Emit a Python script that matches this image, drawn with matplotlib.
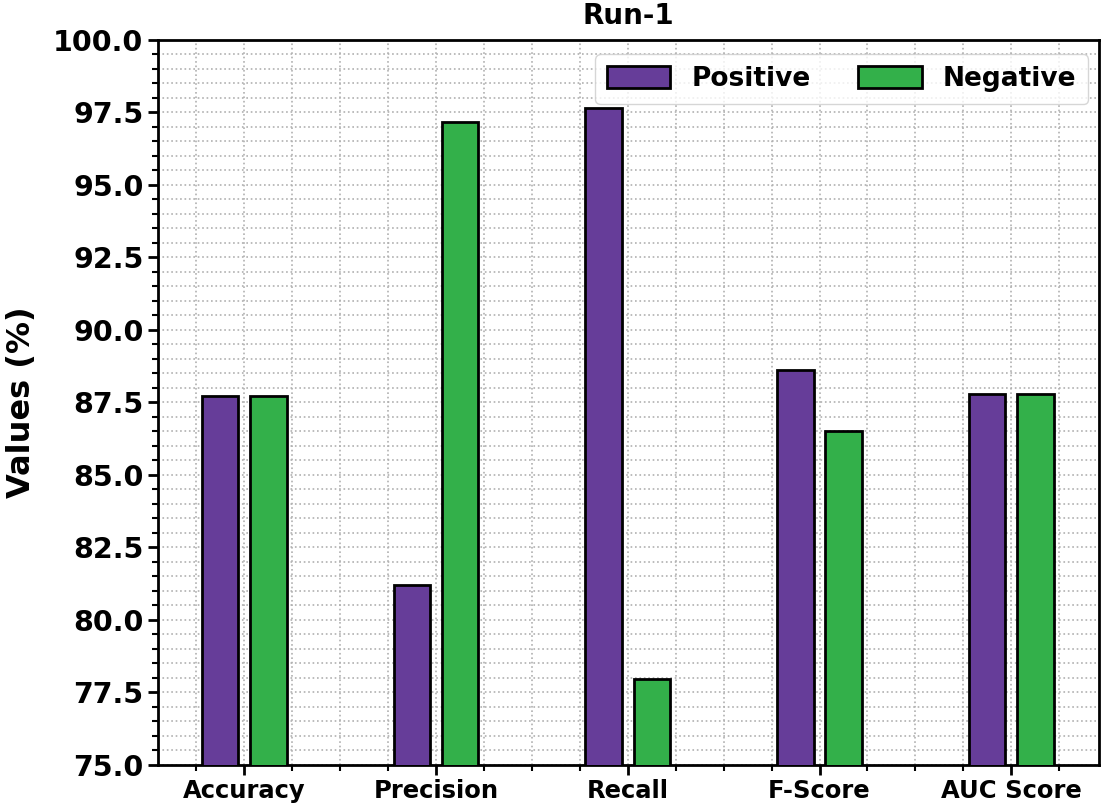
import matplotlib
matplotlib.use('Agg')
import matplotlib.pyplot as plt
import numpy as np
from matplotlib.ticker import MultipleLocator, FormatStrFormatter

metrics = ['Accuracy', 'Precision', 'Recall', 'F-Score', 'AUC Score']
positive = [87.7, 81.2, 97.65, 88.6, 87.8]
negative = [87.7, 97.15, 77.95, 86.5, 87.8]

plt.rcParams['font.family'] = 'DejaVu Sans'
plt.rcParams['font.weight'] = 'bold'

fig = plt.figure(figsize=(11.05, 8.11), dpi=100)
ax = fig.add_axes([0.143, 0.057, 0.852, 0.894])

x = np.arange(len(metrics))
w = 0.19
ax.bar(x - 0.126, positive, w, color='#663d99', edgecolor='black', linewidth=2, label='Positive', zorder=3)
ax.bar(x + 0.126, negative, w, color='#33b04a', edgecolor='black', linewidth=2, label='Negative', zorder=3)

ax.set_ylim(75, 100)
ax.set_xlim(-0.45, 4.46)
ax.set_xticks(x)
ax.set_xticklabels(metrics, fontsize=17.5, fontweight='bold')
ax.yaxis.set_major_locator(MultipleLocator(2.5))
ax.yaxis.set_minor_locator(MultipleLocator(0.5))
ax.xaxis.set_minor_locator(MultipleLocator(0.25))
ax.yaxis.set_major_formatter(FormatStrFormatter('%.1f'))
for lab in ax.get_yticklabels():
    lab.set_fontsize(20.5)
    lab.set_fontweight('bold')

ax.tick_params(axis='both', which='major', length=7, width=2)
ax.tick_params(axis='both', which='minor', length=4, width=1.5)
ax.grid(which='both', linestyle=':', color='#b0b0b0', linewidth=1.2, zorder=0)
for sp in ax.spines.values():
    sp.set_linewidth(2)

ax.set_ylabel('Values (%)', fontsize=23, fontweight='bold', labelpad=12)
ax.set_title('Run-1', fontsize=20, fontweight='bold', pad=11)
ax.legend(loc='upper right', ncol=2, prop={'weight': 'bold', 'size': 19},
          handlelength=2.4, handleheight=0.9, columnspacing=1.8,
          borderpad=0.45, borderaxespad=0.0, bbox_to_anchor=(0.988, 0.98))

fig.savefig('out.png', dpi=100)
